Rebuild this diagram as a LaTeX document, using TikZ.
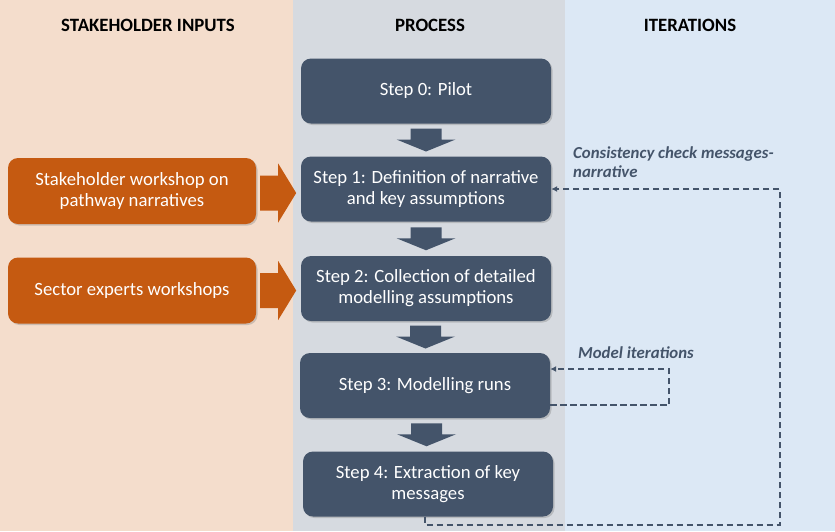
\documentclass[tikz,border=0pt]{standalone}
\usepackage{fontspec}
\setmainfont{Carlito}
\usetikzlibrary{calc,shadows,arrows.meta}
\definecolor{slate}{HTML}{44546A}
\definecolor{orng}{HTML}{C55A11}
\definecolor{bgleft}{HTML}{F4DDCC}
\definecolor{bgmid}{HTML}{D6DAE0}
\definecolor{bgright}{HTML}{DCE8F5}
\tikzset{
  stepbox/.style={fill=slate, rounded corners=10pt, minimum width=250pt, minimum height=65pt,
    inner sep=0pt, text=white, align=center, font=\fontsize{18.7}{21}\selectfont,
    drop shadow={opacity=0.35, shadow xshift=1.5pt, shadow yshift=-1.5pt}},
  inbox/.style={stepbox, fill=orng, minimum width=248pt, minimum height=66pt},
  header/.style={font=\fontsize{18.8}{22}\selectfont\bfseries, text=black},
  iterlabel/.style={font=\fontsize{16.8}{19}\selectfont\bfseries\itshape, text=slate, align=left, anchor=west, inner sep=0pt},
  iterline/.style={draw=slate, line width=2.3pt, dash pattern=on 6.5pt off 3.5pt},
  downarrow/.pic={\fill[slate] (-15.5,0) -- (15.5,0) -- (15.5,11) -- (29.5,11) -- (0,23) -- (-29.5,11) -- (-15.5,11) -- cycle;},
  rightarrow/.pic={\fill[orng] (0,-17.5) -- (18,-17.5) -- (18,-29.5) -- (36,0) -- (18,29.5) -- (18,17.5) -- (0,17.5) -- cycle;}
}
\begin{document}
\begin{tikzpicture}[x=1pt,y=-1pt]
\useasboundingbox (0,0) rectangle (835,531);
% background panels
\fill[bgleft] (0,0) rectangle (293,531);
\fill[bgmid] (293,0) rectangle (565,531);
\fill[bgright] (565,0) rectangle (835,531);
% headers
\node[header] (h1) at (148,25) {STAKEHOLDER INPUTS};
\node[header] (h2) at (430,25) {PROCESS};
\node[header] (h3) at (690,25) {ITERATIONS};
% process steps
\node[stepbox] (s0) at (426,91) {Step 0: Pilot};
\node[stepbox] (s1) at (426,189) {Step 1: Definition of narrative\\and key assumptions};
\node[stepbox] (s2) at (426,288.5) {Step 2: Collection of detailed\\modelling assumptions};
\node[stepbox] (s3) at (425,385.5) {Step 3: Modelling runs};
\node[stepbox] (s4) at (428,484) {Step 4: Extraction of key\\messages};
% block arrows between steps
\path (s0.south) -- (s1.north) coordinate[pos=0.5] (m01);
\path (s1.south) -- (s2.north) coordinate[pos=0.5] (m12);
\path (s2.south) -- (s3.north) coordinate[pos=0.5] (m23);
\path (s3.south) -- (s4.north) coordinate[pos=0.5] (m34);
\pic at ($(m01)+(0,-11.5)$) {downarrow};
\pic at ($(m12)+(0,-11.5)$) {downarrow};
\pic at ($(m23)+(0,-11.5)$) {downarrow};
\pic at ($(m34)+(0,-11.5)$) {downarrow};
% stakeholder inputs
\node[inbox] (i1) at (132,191) {Stakeholder workshop on\\pathway narratives};
\node[inbox] (i2) at (132,290.5) {Sector experts workshops};
\pic at ($(i1.east)+(4,2)$) {rightarrow};
\pic at ($(i2.east)+(4,0)$) {rightarrow};
% iterations
\coordinate (cbr) at (780,525);
\draw[iterline, -{Latex[length=6pt,width=6pt]}] ($(s4.south)+(-3,0)$) |- (cbr) |- (s1.east);
\draw[iterline, -{Latex[length=6pt,width=6pt]}] ($(s3.east)+(0,19.5)$) -- ++(119,0) |- ($(s3.east)+(0,-16.5)$);
\node[iterlabel] (l1) at (573,162.5) {Consistency check messages-\\narrative};
\node[iterlabel] (l2) at (578,353) {Model iterations};
\end{tikzpicture}
\end{document}
